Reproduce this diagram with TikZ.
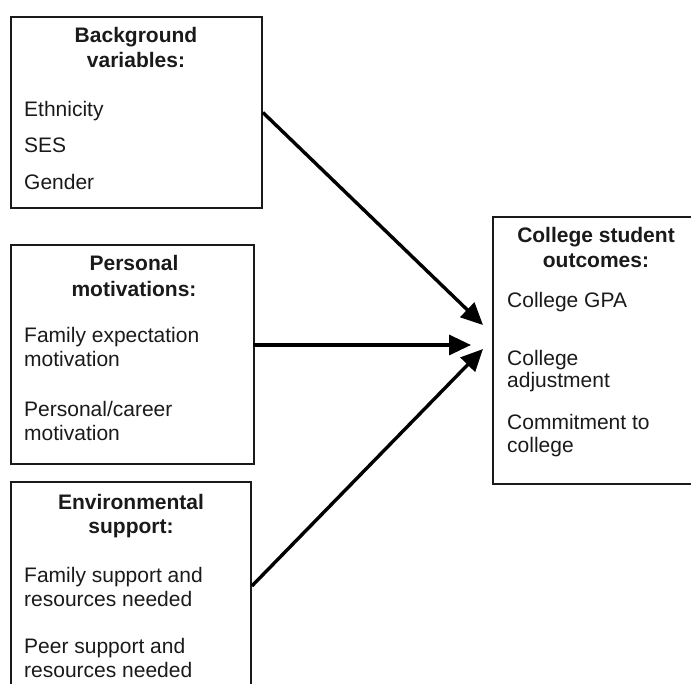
\documentclass[tikz,border=0pt]{standalone}
\usepackage{fontspec}
\setmainfont{Liberation Sans}
\usetikzlibrary{arrows.meta}
\definecolor{ink}{HTML}{1A1A1A}
\tikzset{
  boxframe/.style={draw=ink, line width=1.8pt, inner sep=0pt, rectangle},
  ttl/.style={anchor=base, inner sep=0pt, font=\fontsize{21}{24}\selectfont\bfseries, text=ink},
  itm/.style={anchor=base west, inner sep=0pt, font=\fontsize{21}{24}\selectfont, text=ink},
  conn/.style={draw=black, line width=3.4pt, -{Triangle[length=22pt,width=20pt]}}
}
\begin{document}
\begin{tikzpicture}[x=1pt,y=-1pt]
\useasboundingbox (0,0) rectangle (691,684);
% boxes
\node[boxframe, minimum width=251pt, minimum height=191pt] (bg) at (136.5,112.5) {};
\node[boxframe, minimum width=243pt, minimum height=219pt] (pm) at (132.5,354.5) {};
\node[boxframe, minimum width=240pt, minimum height=208pt] (es) at (131,586) {};
\node[boxframe, minimum width=220pt, minimum height=267pt] (co) at (603,350.5) {};
% box 1 text
\node[ttl] (bgt1) at (136,43) {Background};
\node[ttl] (bgt2) at (136,68) {variables:};
\node[itm] (bgi1) at (24,117) {Ethnicity};
\node[itm] (bgi2) at (24,153) {SES};
\node[itm] (bgi3) at (24,190) {Gender};
% box 2 text
\node[ttl] (pmt1) at (134,271) {Personal};
\node[ttl] (pmt2) at (134,297) {motivations:};
\node[itm] (pmi1) at (24,343) {Family expectation};
\node[itm] (pmi2) at (24,367) {motivation};
\node[itm] (pmi3) at (24,417) {Personal/career};
\node[itm] (pmi4) at (24,441) {motivation};
% box 3 text
\node[ttl] (est1) at (131,509) {Environmental};
\node[ttl] (est2) at (131,533) {support:};
\node[itm] (esi1) at (24,582) {Family support and};
\node[itm] (esi2) at (24,606) {resources needed};
\node[itm] (esi3) at (24,653) {Peer support and};
\node[itm] (esi4) at (24,677) {resources needed};
% box 4 text
\node[ttl] (cot1) at (596,243) {College student};
\node[ttl] (cot2) at (596,268) {outcomes:};
\node[itm] (coi1) at (507,308) {College GPA};
\node[itm] (coi2) at (507,366) {College};
\node[itm] (coi3) at (507,388) {adjustment};
\node[itm] (coi4) at (507,430) {Commitment to};
\node[itm] (coi5) at (507,453) {college};
% arrow end points
\coordinate (e1) at (483,325);
\coordinate (e2) at (471,345);
\coordinate (e3) at (483,349);
% connectors
\draw[conn] (bg.east) -- (e1);
\draw[conn] ([xshift=-2pt]pm.east |- e2) -- (e2);
\draw[conn] (es.east) -- (e3);
\end{tikzpicture}
\end{document}
